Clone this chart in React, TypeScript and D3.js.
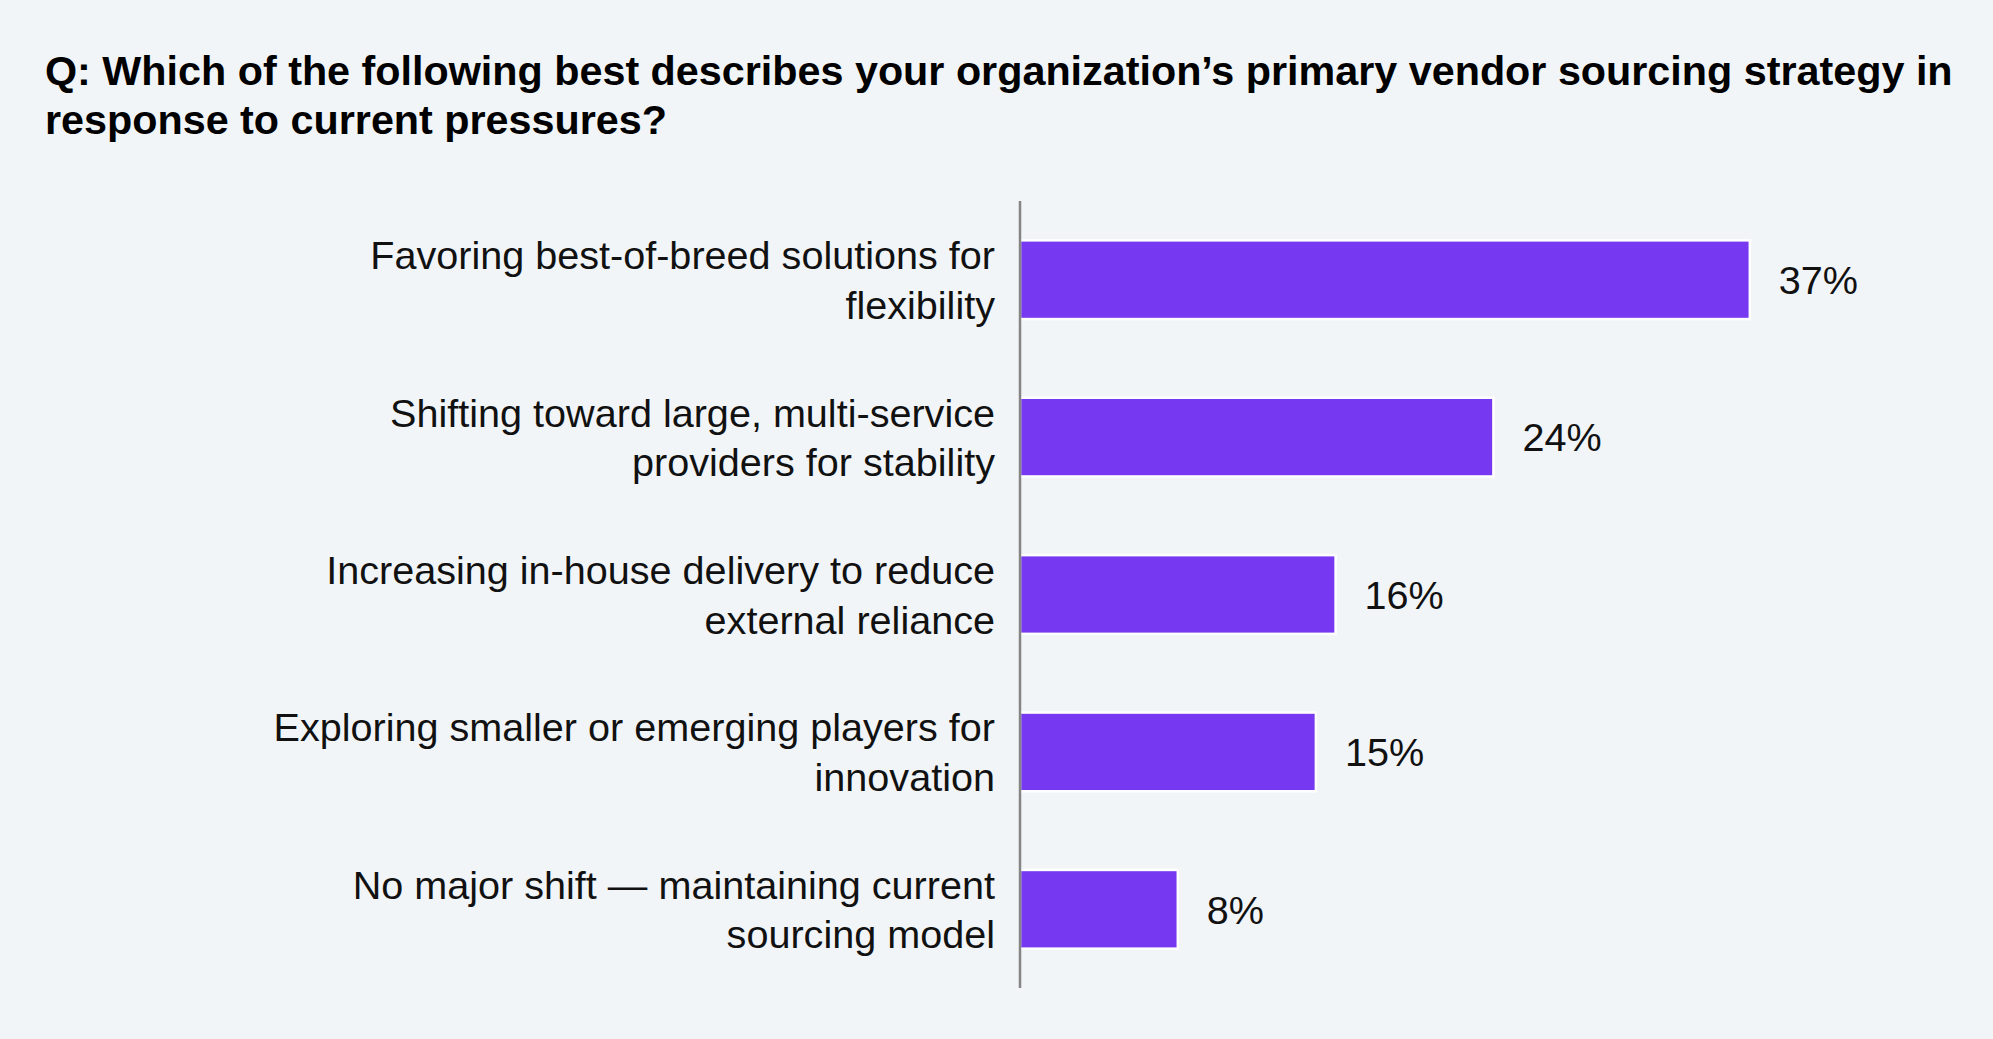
import React, { useRef, useEffect } from 'react';
import * as d3 from 'd3';

const titleLines = [
  'Q: Which of the following best describes your organization’s primary vendor sourcing strategy in',
  'response to current pressures?',
];

const categories = [
  'Favoring best-of-breed solutions for\nflexibility',
  'Shifting toward large, multi-service\nproviders for stability',
  'Increasing in-house delivery to reduce\nexternal reliance',
  'Exploring smaller or emerging players for\ninnovation',
  'No major shift — maintaining current\nsourcing model',
];

const values = [37, 24, 16, 15, 8];

const App: React.FC = () => {
  const chartRef = useRef<SVGSVGElement | null>(null);

  useEffect(() => {
    if (!chartRef.current) return;

    // Clear previous chart
    d3.select(chartRef.current).selectAll('*').remove();

    const width = 1993;
    const height = 1039;
    const font = '"Liberation Sans", Arial, Helvetica, sans-serif';

    const svg = d3.select(chartRef.current)
      .attr('width', width)
      .attr('height', height);

    svg.append('rect')
      .attr('width', width)
      .attr('height', height)
      .attr('fill', '#F2F5F8');

    // Title
    svg.append('g')
      .selectAll('text')
      .data(titleLines)
      .join('text')
      .attr('x', 45)
      .attr('y', (_, i) => 85 + i * 49)
      .attr('font-family', font)
      .attr('font-weight', 'bold')
      .attr('font-size', 41.3)
      .attr('fill', '#000')
      .text(d => d);

    const data = categories.map((c, i) => ({ category: c, value: values[i] }));

    // Scales
    const y = d3.scaleBand()
      .domain(categories)
      .range([201, 988])
      .paddingInner(0.5)
      .paddingOuter(0.25);

    const x = d3.scaleLinear()
      .domain([0, 40])
      .range([1020, 1809]);

    // Bars
    svg.append('g')
      .selectAll('rect')
      .data(data)
      .join('rect')
      .attr('x', x(0))
      .attr('y', d => y(d.category) || 0)
      .attr('width', d => x(d.value) - x(0))
      .attr('height', y.bandwidth())
      .attr('fill', '#7639F1')
      .attr('stroke', '#FFFFFF')
      .attr('stroke-width', 2.5);

    // Axis line
    svg.append('line')
      .attr('x1', x(0))
      .attr('x2', x(0))
      .attr('y1', y.range()[0])
      .attr('y2', y.range()[1])
      .attr('stroke', '#858585')
      .attr('stroke-width', 2.5);

    // Category labels (two lines, right aligned)
    const lineHeight = 49.6;
    const labels = svg.append('g')
      .selectAll('text')
      .data(data)
      .join('text')
      .attr('text-anchor', 'end')
      .attr('font-family', font)
      .attr('font-size', 39.6)
      .attr('fill', '#111');

    labels.each(function (d) {
      const lines = d.category.split('\n');
      const cy = (y(d.category) || 0) + y.bandwidth() / 2;
      const top = cy - ((lines.length - 1) * lineHeight) / 2;
      d3.select(this)
        .selectAll('tspan')
        .data(lines)
        .join('tspan')
        .attr('x', 995)
        .attr('y', (_, i) => top + i * lineHeight)
        .attr('dy', '0.36em')
        .text(l => l);
    });

    // Value labels
    svg.append('g')
      .selectAll('text')
      .data(data)
      .join('text')
      .attr('x', d => x(d.value) + 29)
      .attr('y', d => (y(d.category) || 0) + y.bandwidth() / 2)
      .attr('dy', '0.36em')
      .attr('font-family', font)
      .attr('font-size', 39.6)
      .attr('fill', '#111')
      .text(d => `${d.value}%`);
  }, []);

  return (
    <div style={{ position: 'absolute', top: 0, left: 0 }}>
      <svg ref={chartRef} style={{ display: 'block' }} />
    </div>
  );
};

export default App;
